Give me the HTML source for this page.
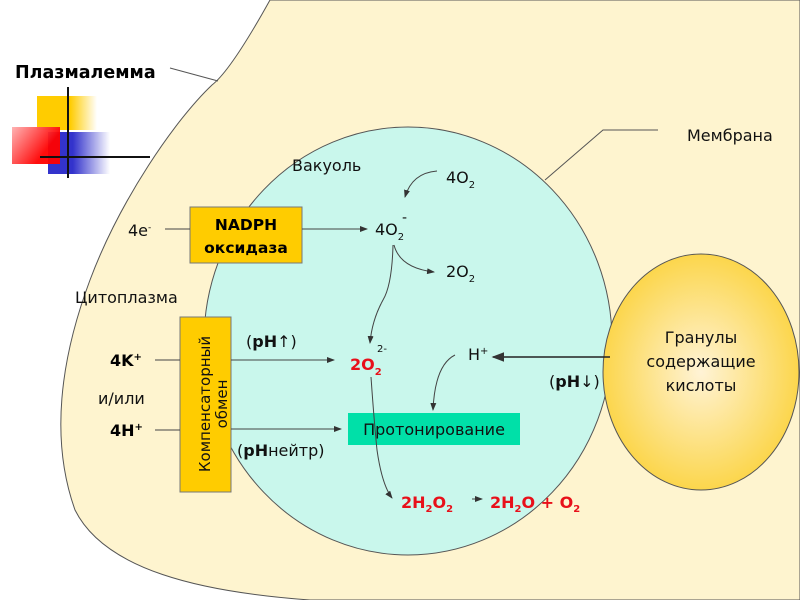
<!DOCTYPE html>
<html><head><meta charset="utf-8"><style>
html,body{margin:0;padding:0;background:#fff}
svg{display:block}
text{font-family:"DejaVu Sans","Liberation Sans",sans-serif;}
</style></head><body>
<svg width="800" height="600" viewBox="0 0 800 600" xmlns="http://www.w3.org/2000/svg">
<defs>
<radialGradient id="gr" cx="0.5" cy="0.5" r="0.55">
<stop offset="0" stop-color="#fff3d6"/><stop offset="1" stop-color="#fbd33e"/></radialGradient>
<linearGradient id="yl" x1="0" x2="1"><stop offset="0.55" stop-color="#ffcc00"/><stop offset="1" stop-color="#fff"/></linearGradient>
<linearGradient id="rd" x1="0" x2="1" y1="0" y2="0.6"><stop offset="0" stop-color="#ffb0b0"/><stop offset="0.8" stop-color="#ff0000"/></linearGradient>
<linearGradient id="bl" x1="0" x2="1"><stop offset="0.4" stop-color="#3333cc"/><stop offset="1" stop-color="#fff"/></linearGradient>
<marker id="ar" markerWidth="8" markerHeight="6" refX="7" refY="3" orient="auto"><path d="M0,0 L8,3 L0,6 z" fill="#333"/></marker>
</defs>
<path d="M270,0 C245,45 225,75 212,85 C175,120 120,200 90,280 C60,360 50,440 75,510 C105,570 200,592 310,600 L800,600 L800,0 Z" fill="#fef4cf" stroke="#555" stroke-width="1"/>
<line x1="170" y1="68" x2="218" y2="81" stroke="#555"/>
<text x="15" y="78" font-size="17.5" font-weight="bold" fill="#000">Плазмалемма</text>
<rect x="37" y="96" width="60" height="34" fill="url(#yl)"/>
<rect x="48" y="132" width="62" height="42" fill="url(#bl)"/>
<rect x="12" y="127" width="48" height="37" fill="url(#rd)" opacity="0.95"/>
<line x1="68" y1="87" x2="68" y2="178" stroke="#111" stroke-width="2"/>
<line x1="40" y1="157" x2="150" y2="157" stroke="#111" stroke-width="2"/>
<ellipse cx="408" cy="341" rx="204" ry="214" fill="#c9f7ec" stroke="#555" stroke-width="1"/>
<ellipse cx="701" cy="372" rx="98" ry="118" fill="url(#gr)" stroke="#555"/>
<polyline points="545,180 603,130 658,130" fill="none" stroke="#555"/>
<text x="687" y="141" font-size="16" fill="#111">Мембрана</text>
<text x="292" y="171" font-size="16" fill="#111">Вакуоль</text>
<text x="446" y="183" font-size="16" fill="#111">4O<tspan font-size="10" dy="5">2</tspan></text>
<path d="M437,171 Q412,173 405,197" fill="none" stroke="#444" marker-end="url(#ar)"/>
<rect x="190" y="207" width="112" height="56" fill="#ffcc00" stroke="#777"/>
<text x="246" y="230" font-size="15.5" font-weight="bold" text-anchor="middle">NADPH</text>
<text x="246" y="253" font-size="15.5" font-weight="bold" text-anchor="middle">оксидаза</text>
<text x="128" y="236" font-size="16" fill="#111">4e<tspan font-size="9" dy="-6">-</tspan></text>
<line x1="165" y1="229" x2="190" y2="229" stroke="#444"/>
<line x1="302" y1="229" x2="367" y2="229" stroke="#444" marker-end="url(#ar)"/>
<text x="375" y="235" font-size="16" fill="#111">4O<tspan font-size="10" dy="5">2</tspan></text>
<text x="402" y="222" font-size="14" fill="#111">-</text>
<path d="M394,245 Q400,268 434,272" fill="none" stroke="#444" marker-end="url(#ar)"/>
<text x="446" y="277" font-size="16" fill="#111">2O<tspan font-size="10" dy="5">2</tspan></text>
<path d="M393,245 Q392,285 383,300 Q372,320 370,343" fill="none" stroke="#444" marker-end="url(#ar)"/>
<text x="75" y="303" font-size="16" fill="#111">Цитоплазма</text>
<rect x="180" y="317" width="51" height="175" fill="#ffcc00" stroke="#777"/>
<text transform="translate(210,404) rotate(-90)" font-size="15" text-anchor="middle" fill="#111">Компенсаторный</text>
<text transform="translate(227,404) rotate(-90)" font-size="15" text-anchor="middle" fill="#111">обмен</text>
<text x="110" y="366" font-size="16" font-weight="bold">4K<tspan font-size="10" dy="-6">+</tspan></text>
<text x="98" y="404" font-size="16" fill="#111">и/или</text>
<text x="110" y="436" font-size="16" font-weight="bold">4H<tspan font-size="10" dy="-6">+</tspan></text>
<line x1="155" y1="360" x2="180" y2="360" stroke="#444"/>
<line x1="155" y1="430" x2="180" y2="430" stroke="#444"/>
<line x1="231" y1="360" x2="334" y2="360" stroke="#444" marker-end="url(#ar)"/>
<line x1="231" y1="429" x2="341" y2="429" stroke="#444" marker-end="url(#ar)"/>
<text x="246" y="347" font-size="16" fill="#111">(<tspan font-weight="bold">pH</tspan>↑)</text>
<text x="350" y="370" font-size="16" font-weight="bold" fill="#e8101a">2O<tspan font-size="10" dy="5">2</tspan></text>
<text x="377" y="352" font-size="10" fill="#111">2-</text>
<text x="468" y="360" font-size="16" fill="#111">H<tspan font-size="10" dy="-6">+</tspan></text>
<line x1="610" y1="357" x2="493" y2="357" stroke="#222" stroke-width="1.6" marker-end="url(#ar)"/>
<text x="549" y="387" font-size="16" fill="#111">(<tspan font-weight="bold">pH</tspan>↓)</text>
<path d="M455,355 Q435,365 433,410" fill="none" stroke="#444" marker-end="url(#ar)"/>
<rect x="348" y="413" width="172" height="32" fill="#00e0a8"/>
<text x="434" y="435" font-size="16" text-anchor="middle" fill="#111">Протонирование</text>
<text x="237" y="456" font-size="16" fill="#111">(<tspan font-weight="bold">pH</tspan>нейтр)</text>
<path d="M371,377 Q374,420 377,450 Q382,485 392,498" fill="none" stroke="#444" marker-end="url(#ar)"/>
<text x="401" y="508" font-size="16" font-weight="bold" fill="#e8101a">2H<tspan font-size="10" dy="4">2</tspan><tspan dy="-4">O</tspan><tspan font-size="10" dy="4">2</tspan></text>
<line x1="472" y1="499" x2="482" y2="499" stroke="#444" marker-end="url(#ar)"/>
<text x="490" y="508" font-size="16" font-weight="bold" fill="#e8101a">2H<tspan font-size="10" dy="4">2</tspan><tspan dy="-4">O + O</tspan><tspan font-size="10" dy="4">2</tspan></text>
<text x="701" y="343" font-size="16" text-anchor="middle" fill="#111">Гранулы</text>
<text x="701" y="367" font-size="16" text-anchor="middle" fill="#111">содержащие</text>
<text x="701" y="391" font-size="16" text-anchor="middle" fill="#111">кислоты</text>
</svg>
</body></html>
